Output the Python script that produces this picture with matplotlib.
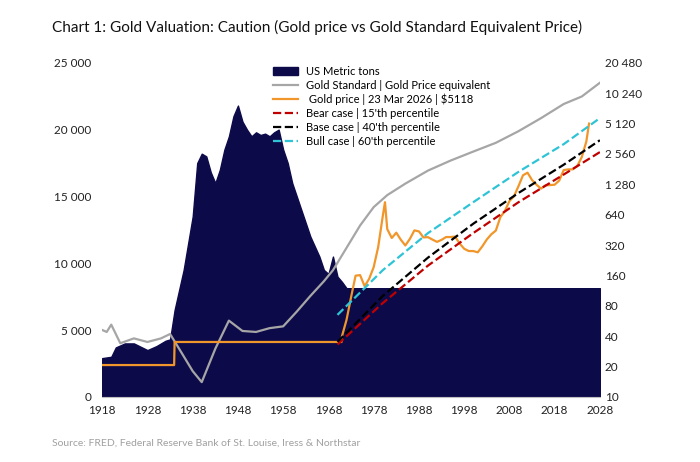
import numpy as np
import matplotlib.pyplot as plt

plt.rcParams['font.family'] = ['Lato', 'DejaVu Sans']

# US gold holdings, metric tons (left axis)
tons_years = [1918, 1920, 1921, 1923, 1925, 1928, 1930, 1932, 1933, 1934, 1935, 1936, 1937, 1938,
              1939, 1940, 1941, 1942, 1943, 1944, 1945, 1946, 1947, 1948, 1949, 1950, 1951, 1952,
              1953, 1954, 1955, 1956, 1957, 1958, 1959, 1960, 1962, 1964, 1966, 1967, 1968, 1969,
              1970, 1971, 1972, 2028]
tons = [2900, 3000, 3700, 4000, 4000, 3500, 3800, 4200, 4300, 6500, 8000, 9500, 11500, 13500,
        17500, 18200, 18000, 16800, 16000, 17000, 18500, 19500, 21000, 21800, 20600, 20000, 19500, 19800,
        19600, 19700, 19500, 19800, 20000, 18500, 17500, 16000, 14000, 12000, 10500, 9500, 9200, 10500,
        9000, 8600, 8133, 8133]

# gold standard price equivalent (right axis, $/oz)
gs_years = [1918, 1919, 1920, 1922, 1925, 1928, 1931, 1933, 1935, 1938, 1940, 1943, 1946, 1949,
            1952, 1955, 1958, 1961, 1964, 1967, 1969, 1972, 1975, 1978, 1981, 1985, 1990, 1995,
            2000, 2005, 2010, 2015, 2020, 2024, 2028]
gs = [46, 44, 52, 34, 38, 35, 38, 42, 30, 18, 14, 30, 57, 45,
      44, 48, 50, 70, 100, 140, 180, 300, 500, 760, 1000, 1300, 1750, 2200,
      2700, 3300, 4300, 5800, 8000, 9500, 13000]

# gold price ($/oz)
gp_years = [1918, 1933.9, 1934, 1970.9, 1971, 1972, 1973, 1974, 1975, 1976, 1977, 1978, 1979, 1980,
            1980.5, 1981, 1982, 1983, 1984, 1985, 1986, 1987, 1988, 1989, 1990, 1991, 1992, 1993, 1994,
            1995, 1996, 1997, 1998, 1999, 2000, 2001, 2002, 2003, 2004, 2005, 2006, 2007, 2008,
            2009, 2010, 2011, 2012, 2013, 2014, 2015, 2016, 2017, 2018, 2019, 2020, 2021, 2022,
            2023, 2024, 2025, 2025.6]
gp = [20.67, 20.67, 35, 35, 40, 58, 97, 159, 161, 125, 148, 193, 306, 615,
      850, 460, 376, 424, 361, 317, 368, 447, 437, 381, 383, 362, 344, 360, 384,
      384, 388, 331, 294, 279, 279, 271, 310, 363, 409, 445, 604, 697, 872,
      972, 1225, 1572, 1669, 1411, 1266, 1160, 1251, 1257, 1268, 1393, 1770, 1799, 1800,
      1943, 2386, 3400, 5118]

case_years = [1970, 1980, 1990, 2000, 2010, 2020, 2028]
bear = [33, 85, 200, 420, 850, 1600, 2670]
base = [35, 100, 240, 520, 1050, 2000, 3500]
bull = [65, 180, 420, 850, 1700, 3200, 5800]

fig = plt.figure(figsize=(7, 4.62), dpi=100)
ax = fig.add_axes([0.146, 0.141, 0.711, 0.723])
ax2 = ax.twinx()

ax.fill_between(tons_years, tons, color='#0d0a4a', label='US Metric tons', zorder=1)
ax.set_ylim(0, 25000)
ax.set_xlim(1918, 2028)
ax.set_yticks(range(0, 25001, 5000))
ax.set_yticklabels([f'{v:,}'.replace(',', ' ') for v in range(0, 25001, 5000)])
ax.set_xticks(range(1918, 2029, 10))

l1, = ax2.plot(gs_years, gs, color='#a6a6a6', lw=1.6, label='Gold Standard | Gold Price equivalent')
l2, = ax2.plot(gp_years, gp, color='#f0962a', lw=1.6, label=' Gold price | 23 Mar 2026 | $5118')
l3, = ax2.plot(case_years, bear, color='#c00000', lw=1.6, ls='--', label="Bear case | 15'th percentile")
l4, = ax2.plot(case_years, base, color='black', lw=1.6, ls='--', label="Base case | 40'th percentile")
l5, = ax2.plot(case_years, bull, color='#2ec4d6', lw=1.6, ls='--', label="Bull case | 60'th percentile")
ax2.set_yscale('log', base=2)
ax2.set_ylim(10, 20480)
rticks = [10 * 2 ** i for i in range(12)]
ax2.set_yticks(rticks)
ax2.set_yticklabels([f'{v:,}'.replace(',', ' ') for v in rticks])
ax2.minorticks_off()

for a in (ax, ax2):
    for s in a.spines.values():
        s.set_visible(False)
    a.tick_params(length=0, labelsize=8.5, colors='#222222')
ax.tick_params(axis='x', pad=6)
ax.tick_params(axis='y', pad=8)
ax.spines['bottom'].set_visible(True)
ax.spines['bottom'].set_color('#bfbfbf')

h0, lab0 = ax.get_legend_handles_labels()
ax2.legend(h0 + [l1, l2, l3, l4, l5], lab0 + [l.get_label() for l in (l1, l2, l3, l4, l5)],
           loc='upper left', bbox_to_anchor=(0.33, 1.01), frameon=False, fontsize=8,
           handlelength=2.2, labelspacing=0.25, borderaxespad=0.2)

fig.text(0.075, 0.93, 'Chart 1: Gold Valuation: Caution (Gold price vs Gold Standard Equivalent Price)',
         fontsize=11, color='#111111')
fig.text(0.075, 0.035, 'Source: FRED, Federal Reserve Bank of St. Louise, Iress & Northstar',
         fontsize=7.5, color='#a0a0a0')

fig.savefig('out.png', dpi=100)
